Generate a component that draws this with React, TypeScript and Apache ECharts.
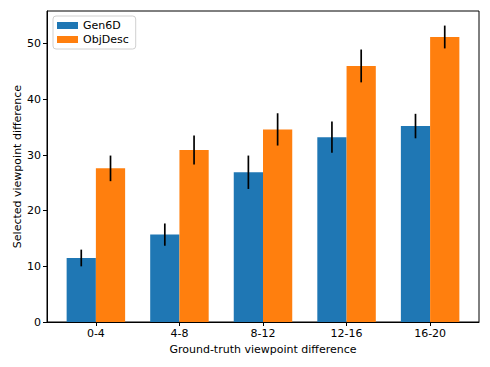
import React, { useEffect, useRef } from "react";
import * as echarts from "echarts";

const categories = ["0-4", "4-8", "8-12", "12-16", "16-20"];
const gen6dMean = [11.5, 15.7, 26.9, 33.2, 35.2];
const gen6dStd = [1.5, 2.0, 3.0, 2.8, 2.2];
const objDescMean = [27.6, 30.9, 34.6, 46.0, 51.2];
const objDescStd = [2.3, 2.6, 2.9, 2.95, 2.05];
const xTicks = [0, 1, 2, 3, 4];
const seriesNames = ["Gen6D", "ObjDesc"];

const BAR_W = 0.35;
const ERR_W = 1.7;
const FONT = "DejaVu Sans";

function makeSeries(name: string, color: string, means: number[], stds: number[], offset: number) {
  return {
    type: "custom",
    name,
    itemStyle: { color },
    data: means.map((m, i) => [i, m, stds[i]]),
    encode: { x: 0, y: 1 },
    renderItem: (params: any, api: any) => {
      const i = api.value(0);
      const v = api.value(1);
      const s = api.value(2);
      const cx = i + offset;
      const p0 = api.coord([cx - BAR_W / 2, v]);
      const p1 = api.coord([cx + BAR_W / 2, 0]);
      const e0 = api.coord([cx, v + s]);
      const e1 = api.coord([cx, v - s]);
      return {
        type: "group",
        children: [
          {
            type: "rect",
            shape: { x: p0[0], y: p0[1], width: p1[0] - p0[0], height: p1[1] - p0[1] },
            style: { fill: color },
          },
          {
            type: "rect",
            shape: { x: e0[0] - ERR_W / 2, y: e0[1], width: ERR_W, height: e1[1] - e0[1] },
            style: { fill: "#000" },
            z2: 10,
          },
        ],
      };
    },
  };
}

export default function App() {
  const ref = useRef<HTMLDivElement>(null);
  useEffect(() => {
    if (!ref.current) return;
    const chart = echarts.init(ref.current, null, { renderer: "svg" });
    chart.setOption({
      animation: false,
      backgroundColor: "#fff",
      textStyle: { fontFamily: FONT },
      grid: {
        left: 47,
        right: 11,
        top: 11,
        bottom: 45,
        show: true,
        borderColor: "#000",
        borderWidth: 1,
        containLabel: false,
      },
      legend: {
        orient: "vertical",
        left: 53,
        top: 16,
        data: seriesNames.map((n) => ({ name: n, icon: "rect" })),
        itemWidth: 21,
        itemHeight: 7,
        itemGap: 3,
        padding: [4, 7, 4, 4],
        borderColor: "#d0d0d0",
        borderWidth: 1,
        borderRadius: 3,
        backgroundColor: "#fff",
        textStyle: { fontFamily: FONT, fontSize: 11, color: "#000" },
      },
      xAxis: {
        type: "value",
        min: -0.585,
        max: 4.585,
        name: "Ground-truth viewpoint difference",
        nameLocation: "middle",
        nameGap: 22,
        nameMoveOverlap: false,
        nameTextStyle: { fontFamily: FONT, fontSize: 11, color: "#000" },
        axisLine: { show: true, onZero: false, lineStyle: { color: "#000", width: 1 } },
        axisTick: {
          show: true,
          length: 4,
          lineStyle: { color: "#000" },
          customValues: xTicks,
        },
        axisLabel: {
          customValues: xTicks,
          formatter: (v: number) => categories[Math.round(v)] ?? "",
          fontFamily: FONT,
          fontSize: 11,
          color: "#000",
          margin: 6,
        },
        splitLine: { show: false },
      },
      yAxis: {
        type: "value",
        min: 0,
        max: 55.87,
        interval: 10,
        name: "Selected viewpoint difference",
        nameLocation: "middle",
        nameGap: 24,
        nameRotate: 90,
        nameMoveOverlap: false,
        nameTextStyle: { fontFamily: FONT, fontSize: 11, color: "#000" },
        axisLine: { show: true, onZero: false, lineStyle: { color: "#000", width: 1 } },
        axisTick: {
          show: true,
          length: 4,
          lineStyle: { color: "#000" },
        },
        axisLabel: {
          showMaxLabel: false,
          fontFamily: FONT,
          fontSize: 11,
          color: "#000",
          margin: 6,
        },
        splitLine: { show: false },
      },
      series: [
        makeSeries(seriesNames[0], "#1f77b4", gen6dMean, gen6dStd, -BAR_W / 2),
        makeSeries(seriesNames[1], "#ff7f0e", objDescMean, objDescStd, BAR_W / 2),
      ],
    });
    return () => chart.dispose();
  }, []);
  return <div ref={ref} style={{ width: 490, height: 367, position: "absolute", left: 0, top: 0 }} />;
}
